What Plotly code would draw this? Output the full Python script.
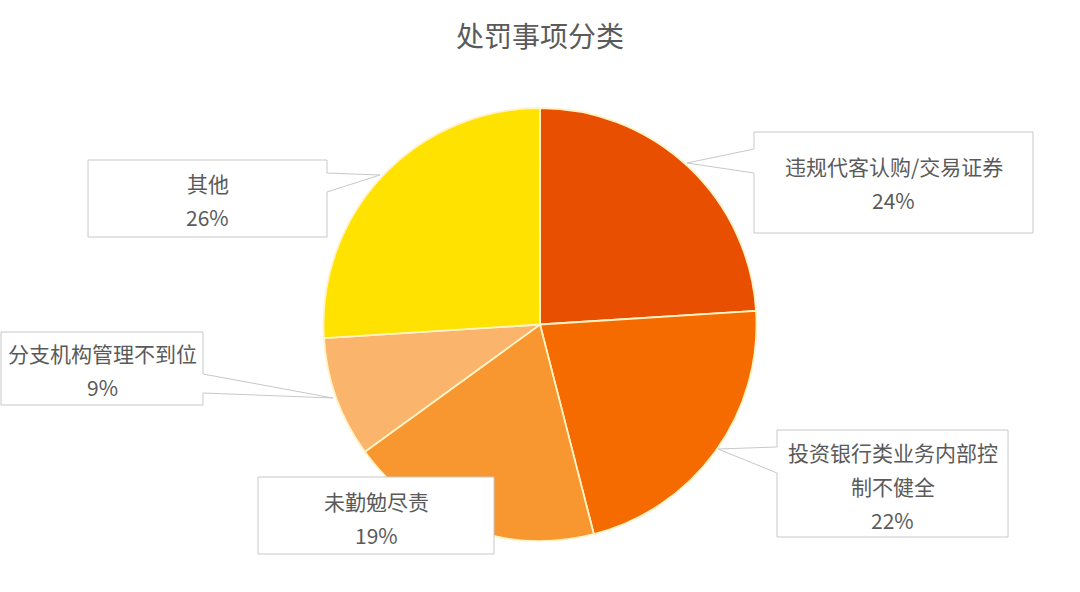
import plotly.graph_objects as go

# pie data (clockwise from 12 o'clock)
labels = ["违规代客认购/交易证券", "投资银行类业务内部控制不健全", "未勤勉尽责", "分支机构管理不到位", "其他"]
values = [24, 22, 19, 9, 26]
colors = ["#E84F00", "#F56B00", "#F8962F", "#FBB46B", "#FFE200"]

# how each label is wrapped inside its callout box
label_lines = [["违规代客认购/交易证券"], ["投资银行类业务内部控", "制不健全"], ["未勤勉尽责"],
               ["分支机构管理不到位"], ["其他"]]

# callout boxes in pixels: x0, x1, y0, y1, notch side, notch top, notch bottom, apex
boxes = [
    (754, 1033, 132, 233, "left", 149, 173, (687, 163)),
    (777, 1008, 430, 537, "left", 447, 473, (718, 449)),
    (258, 494, 477, 554, None, None, None, None),
    (1, 203, 332, 405, "right", 374, 393, (333, 398)),
    (88, 327, 160, 237, "right", 173, 192, (380, 175)),
]
first_line_y = [166, 452, 501, 353, 183]
line_gap = 34

W, H = 1080, 592
font = "Noto Sans CJK SC"
grey = "#5a5a5a"

fig = go.Figure()

# invisible axes for drawing the callouts in pixel units
fig.add_trace(go.Scatter(x=[0, W], y=[0, H], mode="markers", marker=dict(opacity=0),
                         hoverinfo="skip", showlegend=False))

fig.add_trace(go.Pie(
    labels=labels, values=values, sort=False, direction="clockwise", rotation=0,
    marker=dict(colors=colors, line=dict(color="#FFF3C6", width=1.8)),
    textinfo="none", hoverinfo="label+percent", showlegend=False,
    domain=dict(x=[323 / W, 757 / W], y=[1 - 541 / H, 1 - 108 / H]),
))

shapes = []
annotations = []
for i, b in enumerate(boxes):
    x0, x1, y0, y1, side, nt, nb, apex = b
    if side == "left":
        path = (f"M{x0},{y0} L{x1},{y0} L{x1},{y1} L{x0},{y1} L{x0},{nb} "
                f"L{apex[0]},{apex[1]} L{x0},{nt} Z")
    elif side == "right":
        path = (f"M{x0},{y0} L{x1},{y0} L{x1},{nt} L{apex[0]},{apex[1]} L{x1},{nb} "
                f"L{x1},{y1} L{x0},{y1} Z")
    else:
        path = f"M{x0},{y0} L{x1},{y0} L{x1},{y1} L{x0},{y1} Z"
    shapes.append(dict(type="path", path=path, xref="x", yref="y", layer="above",
                       fillcolor="white", line=dict(color="#C8C8C8", width=1)))

    pct = round(values[i] / sum(values) * 100)
    lines = label_lines[i] + [f"{pct}%"]
    cx = (x0 + x1) / 2
    for j, t in enumerate(lines):
        annotations.append(dict(x=cx, y=first_line_y[i] + j * line_gap, xref="x", yref="y",
                                text=t, showarrow=False, xanchor="center", yanchor="middle",
                                font=dict(family=font, size=21, color=grey)))

annotations.append(dict(x=540, y=35, xref="x", yref="y", text="处罚事项分类", showarrow=False,
                        xanchor="center", yanchor="middle",
                        font=dict(family=font, size=28, color=grey)))

fig.update_layout(
    width=W, height=H,
    margin=dict(l=0, r=0, t=0, b=0),
    paper_bgcolor="white", plot_bgcolor="white",
    xaxis=dict(range=[0, W], visible=False, fixedrange=True),
    yaxis=dict(range=[H, 0], visible=False, fixedrange=True),
    shapes=shapes, annotations=annotations,
)

# drop the default 8px page margin so the figure sits at the window corner
fig.write_html("out.html", config={"displayModeBar": False},
               post_script="document.body.style.margin='0';")
